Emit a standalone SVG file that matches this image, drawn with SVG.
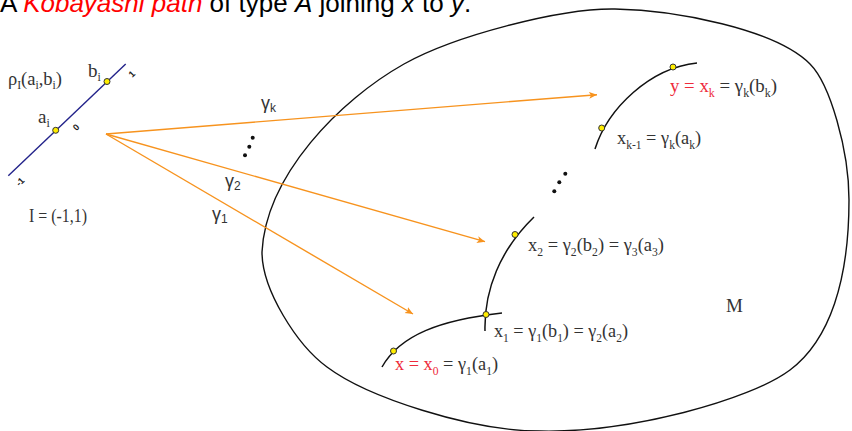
<svg xmlns="http://www.w3.org/2000/svg" width="852" height="431" viewBox="0 0 852 431">
<defs>
<marker id="arr" markerUnits="userSpaceOnUse" markerWidth="10" markerHeight="8" refX="8" refY="3.5" orient="auto"><path d="M0,0 L8,3.5 L0,7 L2,3.5 z" fill="#f7931e"/></marker>
</defs>
<style>
.serif{font-family:"Liberation Serif","Times New Roman",serif;fill:#333;font-size:19px}
.lab{font-family:"Liberation Serif","Times New Roman",serif;fill:#333;font-size:19px}
.gl{font-family:"Liberation Sans",Arial,sans-serif;fill:#333;font-size:18px}
.sub{font-size:12px}
.red{fill:#ee2b3b}
.tick{font-family:"Liberation Sans",Arial,sans-serif;font-size:9px;font-weight:bold;fill:#222;text-anchor:middle}
.pt{fill:#ffed00;stroke:#333;stroke-width:1}
.curve{fill:none;stroke:#111;stroke-width:1.5}
.conn{stroke:#f7931e;stroke-width:1.4;fill:none;marker-end:url(#arr)}
.dot{fill:#111}
</style>
<g id="title">
<text x="0" y="12" font-family="Liberation Sans, Arial, sans-serif" font-size="26" fill="#000">A <tspan font-style="italic" fill="#ff0000">Kobayashi path</tspan> of type <tspan font-style="italic">A</tspan> joining <tspan font-style="italic">x</tspan> to <tspan font-style="italic">y</tspan>.</text>
</g>
<g id="interval">
<line x1="8.3" y1="175.7" x2="125.7" y2="64" stroke="#22228a" stroke-width="1.4"/>
<text class="tick" transform="translate(134,76.3) rotate(-45)">1</text>
<text class="tick" transform="translate(78.3,129.6) rotate(-45)">0</text>
<text class="tick" transform="translate(22.3,184) rotate(-45)">-1</text>
<circle class="pt" cx="55.7" cy="130.3" r="3"/>
<circle class="pt" cx="107" cy="81.5" r="3"/>
<text class="lab" x="8" y="85" textLength="54" lengthAdjust="spacingAndGlyphs">ρ<tspan class="sub" dy="4">I</tspan><tspan dy="-4">(a</tspan><tspan class="sub" dy="4">i</tspan><tspan dy="-4">,b</tspan><tspan class="sub" dy="4">i</tspan><tspan dy="-4">)</tspan></text>
<text class="lab" x="88" y="77">b<tspan class="sub" dy="4">i</tspan></text>
<text class="lab" x="38" y="123">a<tspan class="sub" dy="4">i</tspan></text>
<text class="lab" x="29" y="222" textLength="58" lengthAdjust="spacingAndGlyphs">I = (-1,1)</text>
</g>
<g id="manifold">
<path d="M262,252 C266,175 340,100 404,64 C454,36 560,8 615,9 C675,10 775,29 810,64 C830,84 849,150 849,200 C849,280 830,340 790,370 C750,400 630,433 540,431 C470,431 367,397 327,367 C297,345 262,290 262,252 Z" fill="none" stroke="#111" stroke-width="1.4"/>
<text class="serif" x="726" y="312">M</text>
</g>
<g id="curve1">
<path class="curve" d="M382,367 C400,335 440,320 502,313"/>
<circle class="pt" cx="393.5" cy="351" r="3"/>
<text class="serif" x="395" y="370" textLength="103" lengthAdjust="spacingAndGlyphs"><tspan class="red">x = x<tspan class="sub" dy="5">0</tspan></tspan><tspan dy="-5"> = γ</tspan><tspan class="sub" dy="5">1</tspan><tspan dy="-5">(a</tspan><tspan class="sub" dy="5">1</tspan><tspan dy="-5">)</tspan></text>
</g>
<g id="curve2">
<path class="curve" d="M485,331 C484,290 500,250 534,217"/>
<circle class="pt" cx="486" cy="314.5" r="3"/>
<circle class="pt" cx="515" cy="234.5" r="3"/>
<text class="serif" x="494" y="337" textLength="134" lengthAdjust="spacingAndGlyphs">x<tspan class="sub" dy="5">1</tspan><tspan dy="-5"> = γ</tspan><tspan class="sub" dy="5">1</tspan><tspan dy="-5">(b</tspan><tspan class="sub" dy="5">1</tspan><tspan dy="-5">) = γ</tspan><tspan class="sub" dy="5">2</tspan><tspan dy="-5">(a</tspan><tspan class="sub" dy="5">2</tspan><tspan dy="-5">)</tspan></text>
<text class="serif" x="528" y="251" textLength="136" lengthAdjust="spacingAndGlyphs">x<tspan class="sub" dy="5">2</tspan><tspan dy="-5"> = γ</tspan><tspan class="sub" dy="5">2</tspan><tspan dy="-5">(b</tspan><tspan class="sub" dy="5">2</tspan><tspan dy="-5">) = γ</tspan><tspan class="sub" dy="5">3</tspan><tspan dy="-5">(a</tspan><tspan class="sub" dy="5">3</tspan><tspan dy="-5">)</tspan></text>
</g>
<g id="curve3">
<path class="curve" d="M595,149 C608,108 650,68 697,63"/>
<circle class="pt" cx="601.7" cy="128" r="3"/>
<circle class="pt" cx="673" cy="67" r="3"/>
<text class="serif" x="617" y="144" textLength="84" lengthAdjust="spacingAndGlyphs">x<tspan class="sub" dy="5">k-1</tspan><tspan dy="-5"> = γ</tspan><tspan class="sub" dy="5">k</tspan><tspan dy="-5">(a</tspan><tspan class="sub" dy="5">k</tspan><tspan dy="-5">)</tspan></text>
<text class="serif" x="670" y="92" textLength="107" lengthAdjust="spacingAndGlyphs"><tspan class="red">y = x<tspan class="sub" dy="5">k</tspan></tspan><tspan dy="-5"> = γ</tspan><tspan class="sub" dy="5">k</tspan><tspan dy="-5">(b</tspan><tspan class="sub" dy="5">k</tspan><tspan dy="-5">)</tspan></text>
</g>
<g id="ellipses">
<circle class="dot" cx="252.7" cy="137.7" r="2"/>
<circle class="dot" cx="249.3" cy="146.7" r="2"/>
<circle class="dot" cx="245" cy="155.3" r="2"/>
<circle class="dot" cx="565.3" cy="173.7" r="2"/>
<circle class="dot" cx="559.3" cy="182.3" r="2"/>
<circle class="dot" cx="554.3" cy="191.3" r="2"/>
</g>
<g id="connectors">
<line class="conn" x1="106" y1="134" x2="597" y2="94.7"/>
<line class="conn" x1="106" y1="134" x2="485" y2="241.7"/>
<line class="conn" x1="106" y1="134" x2="413" y2="314"/>
<text class="gl" x="261" y="109">γ<tspan class="sub" dy="3">k</tspan></text>
<text class="gl" x="225" y="187">γ<tspan class="sub" dy="3">2</tspan></text>
<text class="gl" x="212" y="220">γ<tspan class="sub" dy="3">1</tspan></text>
</g>
</svg>
